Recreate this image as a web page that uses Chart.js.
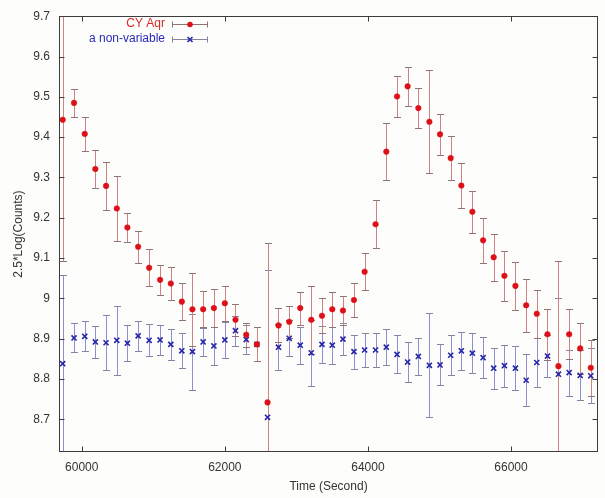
<!DOCTYPE html>
<html>
<head>
<meta charset="utf-8">
<title>CY Aqr light curve</title>
<script src="https://cdn.jsdelivr.net/npm/chart.js@4.4.0/dist/chart.umd.min.js"></script>
<style>
html, body { margin: 0; padding: 0; background: #fdfdfb; }
canvas { display: block; }
</style>
</head>
<body>
<canvas id="lc" width="605" height="498"></canvas>
<script>
// time of each bin (s)
var times = [59734, 59892, 60042, 60190, 60340, 60490, 60638, 60788, 60942, 61095,
             61245, 61399, 61547, 61697, 61847, 62000, 62149, 62299, 62448, 62597,
             62750, 62900, 63054, 63208, 63358, 63502, 63651, 63805, 63954, 64107,
             64257, 64407, 64555, 64705, 64859, 65008, 65157, 65306, 65460, 65610,
             65758, 65908, 66062, 66212, 66360, 66510, 66663, 66813, 66967, 67115];

var cyAqr = [9.443, 9.485, 9.408, 9.321, 9.279, 9.223, 9.176, 9.128, 9.076, 9.046,
             9.037, 8.992, 8.973, 8.973, 8.976, 8.988, 8.947, 8.910, 8.886, 8.742,
             8.933, 8.942, 8.976, 8.947, 8.957, 8.973, 8.970, 8.996, 9.066, 9.184,
             9.364, 9.501, 9.526, 9.472, 9.438, 9.407, 9.348, 9.280, 9.215, 9.144,
             9.102, 9.056, 9.031, 8.983, 8.962, 8.911, 8.832, 8.911, 8.876, 8.828];
var cyAqrErr = [0.35, 0.035, 0.042, 0.048, 0.059, 0.08, 0.037, 0.04, 0.046, 0.037,
                0.04, 0.046, 0.09, 0.045, 0.047, 0.043, 0.04, 0.03, 0.042, 0.396,
                0.042, 0.04, 0.041, 0.084, 0.044, 0.043, 0.037, 0.043, 0.046, 0.06,
                0.07, 0.05, 0.049, 0.049, 0.128, 0.051, 0.054, 0.055, 0.052, 0.055,
                0.058, 0.062, 0.059, 0.066, 0.06, 0.063, 0.26, 0.062, 0.063, 0.07];

var nonVar = [8.838, 8.902, 8.906, 8.892, 8.890, 8.896, 8.889, 8.907, 8.896, 8.897,
              8.886, 8.870, 8.868, 8.892, 8.882, 8.897, 8.920, 8.898, 8.886, 8.705,
              8.879, 8.901, 8.884, 8.865, 8.886, 8.884, 8.899, 8.868, 8.872, 8.872,
              8.879, 8.861, 8.842, 8.856, 8.834, 8.835, 8.859, 8.870, 8.864, 8.853,
              8.827, 8.833, 8.827, 8.797, 8.841, 8.857, 8.812, 8.816, 8.809, 8.808];
var nonVarErr = [0.22, 0.036, 0.037, 0.04, 0.068, 0.086, 0.044, 0.038, 0.04, 0.037,
                 0.039, 0.043, 0.094, 0.035, 0.048, 0.044, 0.037, 0.037, 0.042, 0.366,
                 0.057, 0.045, 0.046, 0.082, 0.045, 0.046, 0.04, 0.042, 0.041, 0.043,
                 0.045, 0.047, 0.05, 0.046, 0.129, 0.051, 0.049, 0.047, 0.05, 0.051,
                 0.051, 0.052, 0.054, 0.065, 0.06, 0.053, 0.19, 0.057, 0.062, 0.068];

var xTicks = [60000, 62000, 64000, 66000];
var yTicks = [8.7, 8.8, 8.9, 9.0, 9.1, 9.2, 9.3, 9.4, 9.5, 9.6, 9.7];

var FONT = '"Liberation Sans", Arial, Helvetica, sans-serif';
var RED = '#dc1018', BLUE = '#2626a8';
var errStyle = [
    {bar: '#cf8282', cap: '#8e7474'},
    {bar: '#8e8ed2', cap: '#8484a0'}
];
var errs = [cyAqrErr, nonVarErr];

function points(vals){
    return times.map(function(t, i){ return {x: t, y: vals[i]}; });
}

// vertical error bars with caps, clipped to the plot box
var errorBars = {
    id: 'errorBars',
    beforeDatasetsDraw: function(chart){
        var ctx = chart.ctx, a = chart.chartArea;
        var xs = chart.scales.x, ys = chart.scales.y;
        ctx.save();
        ctx.beginPath();
        ctx.rect(a.left, a.top, a.right - a.left, a.bottom - a.top);
        ctx.clip();
        ctx.lineWidth = 1;
        for (var d = chart.data.datasets.length - 1; d >= 0; d--) {
            var ds = chart.data.datasets[d];
            ds.data.forEach(function(p, i){
                var px = Math.round(xs.getPixelForValue(p.x)) + 0.5;
                var hi = Math.round(ys.getPixelForValue(p.y + errs[d][i])) + 0.5;
                var lo = Math.round(ys.getPixelForValue(p.y - errs[d][i])) + 0.5;
                ctx.strokeStyle = errStyle[d].bar;
                ctx.beginPath(); ctx.moveTo(px, hi); ctx.lineTo(px, lo); ctx.stroke();
                ctx.strokeStyle = errStyle[d].cap;
                ctx.beginPath();
                ctx.moveTo(px - 3.5, hi); ctx.lineTo(px + 3.5, hi);
                ctx.moveTo(px - 3.5, lo); ctx.lineTo(px + 3.5, lo);
                ctx.stroke();
            });
        }
        ctx.restore();
    }
};

// box around the plot with inward ticks on all sides, plus gnuplot-like key
var frame = {
    id: 'frame',
    afterDraw: function(chart){
        var ctx = chart.ctx, a = chart.chartArea;
        var xs = chart.scales.x, ys = chart.scales.y;
        var L = Math.round(a.left) + 0.5, R = Math.round(a.right) - 0.5;
        var T = Math.round(a.top) + 0.5, B = Math.round(a.bottom) - 0.5;
        ctx.save();
        ctx.strokeStyle = '#3c3c3c';
        ctx.lineWidth = 1;
        ctx.strokeRect(L, T, R - L, B - T);
        ctx.beginPath();
        xs.ticks.forEach(function(t){
            var px = Math.round(xs.getPixelForValue(t.value)) + 0.5;
            ctx.moveTo(px, B); ctx.lineTo(px, B - 5);
            ctx.moveTo(px, T); ctx.lineTo(px, T + 5);
        });
        ys.ticks.forEach(function(t){
            var py = Math.round(ys.getPixelForValue(t.value)) + 0.5;
            ctx.moveTo(L, py); ctx.lineTo(L + 5, py);
            ctx.moveTo(R, py); ctx.lineTo(R - 5, py);
        });
        ctx.stroke();

        // key
        var rows = [
            {label: 'CY Aqr', color: '#d42a2a', y: 24, d: 0},
            {label: 'a non-variable', color: '#2a2ab8', y: 39, d: 1}
        ];
        ctx.font = '12px ' + FONT;
        ctx.textAlign = 'right';
        ctx.textBaseline = 'middle';
        rows.forEach(function(r){
            ctx.fillStyle = r.color;
            ctx.fillText(r.label, 165, r.y);
            var y = r.y + 0.5;
            ctx.strokeStyle = errStyle[r.d].cap;
            ctx.beginPath();
            ctx.moveTo(172.5, y); ctx.lineTo(207.5, y);
            ctx.moveTo(172.5, y - 3); ctx.lineTo(172.5, y + 3);
            ctx.moveTo(207.5, y - 3); ctx.lineTo(207.5, y + 3);
            ctx.stroke();
            if (r.d === 0) {
                ctx.fillStyle = RED;
                ctx.beginPath(); ctx.arc(190, y, 2.8, 0, Math.PI * 2); ctx.fill();
            } else {
                ctx.strokeStyle = BLUE;
                ctx.lineWidth = 1.6;
                ctx.beginPath();
                ctx.moveTo(187.5, y - 2.5); ctx.lineTo(192.5, y + 2.5);
                ctx.moveTo(187.5, y + 2.5); ctx.lineTo(192.5, y - 2.5);
                ctx.stroke();
                ctx.lineWidth = 1;
            }
        });
        ctx.restore();
    }
};

Chart.defaults.font.family = FONT;
Chart.defaults.font.size = 12;
Chart.defaults.color = '#333';

new Chart(document.getElementById('lc').getContext('2d'), {
    type: 'scatter',
    data: {
        datasets: [
            {
                label: 'CY Aqr',
                data: points(cyAqr),
                pointStyle: 'circle',
                pointRadius: 2.8,
                backgroundColor: RED,
                borderColor: RED,
                borderWidth: 0.5
            },
            {
                label: 'a non-variable',
                data: points(nonVar),
                pointStyle: 'crossRot',
                pointRadius: 3.6,
                borderColor: BLUE,
                borderWidth: 1.6
            }
        ]
    },
    options: {
        responsive: false,
        animation: false,
        devicePixelRatio: 1,
        layout: { padding: { left: 0, top: 12, right: 7, bottom: 0 } },
        plugins: {
            legend: { display: false },
            tooltip: { enabled: false }
        },
        scales: {
            x: {
                type: 'linear',
                min: 59682,
                max: 67216,
                afterBuildTicks: function(s){ s.ticks = xTicks.map(function(v){ return {value: v}; }); },
                afterFit: function(s){ s.height = 46; },
                grid: { display: false, drawTicks: false },
                border: { display: false },
                ticks: { padding: 8, maxRotation: 0, color: '#333',
                         callback: function(v){ return String(v); } },
                title: { display: true, text: 'Time (Second)', color: '#333',
                         font: { size: 12 }, padding: { top: 0, bottom: 4 } }
            },
            y: {
                type: 'linear',
                min: 8.619,
                max: 9.7,
                afterBuildTicks: function(s){ s.ticks = yTicks.map(function(v){ return {value: v}; }); },
                afterFit: function(s){ s.width = 59; },
                grid: { display: false, drawTicks: false },
                border: { display: false },
                ticks: { padding: 9, color: '#333',
                         callback: function(v){ return String(+v.toFixed(1)); } },
                title: { display: true, text: '2.5*Log(Counts)', color: '#333',
                         font: { size: 12 }, padding: { top: 11, bottom: 0 } }
            }
        }
    },
    plugins: [errorBars, frame]
});
</script>
</body>
</html>
